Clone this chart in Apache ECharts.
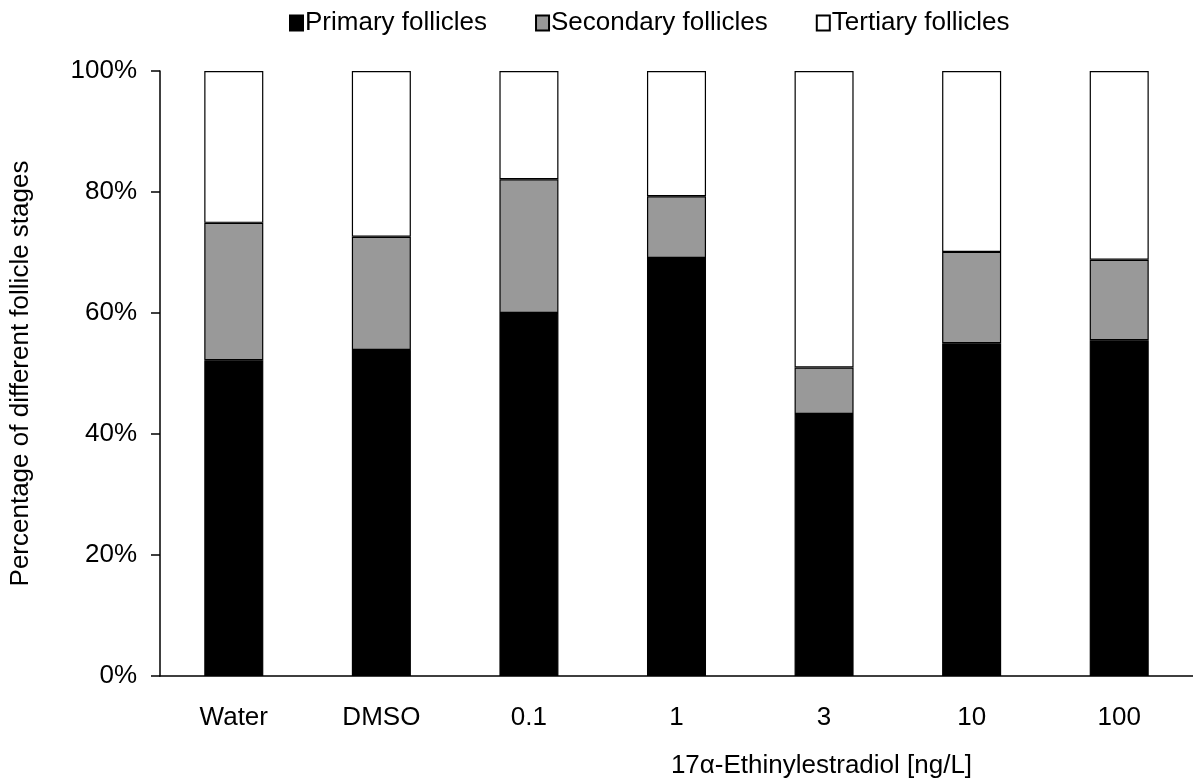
<!DOCTYPE html>
<html>
<head>
<meta charset="utf-8">
<script src="https://cdn.jsdelivr.net/npm/echarts@6/dist/echarts.min.js"></script>
<style>
  html, body { margin: 0; padding: 0; background: #fff; }
  #main { width: 1193px; height: 778px; }
</style>
</head>
<body>
<div id="main"></div>
<script>
// groups on the x axis
var groups = ['Water', 'DMSO', '0.1', '1', '3', '10', '100'];
// percent of follicles in each stage
var primary = [52.2, 53.9, 60.0, 69.1, 43.3, 55.0, 55.5];
var secondary = [22.7, 18.7, 22.1, 10.2, 7.7, 15.1, 13.3];
var tertiary = [25.1, 27.4, 17.9, 20.7, 49.0, 29.9, 31.2];

var fontName = 'Liberation Sans, Arial, sans-serif';

var myChart = echarts.init(document.getElementById('main'));

function stackSeries(name, data, fill, border) {
    return {
        name: name,
        type: 'bar',
        stack: 'total',
        barWidth: '40%',
        data: data,
        itemStyle: { color: fill, borderColor: border, borderWidth: 1.2 },
        emphasis: { disabled: true }
    };
}

var option = {
    animation: false,
    backgroundColor: '#fff',
    textStyle: { fontFamily: fontName },
    legend: {
        top: 5,
        left: 284,
        itemWidth: 13,
        itemHeight: 15,
        itemGap: 48,
        icon: 'rect',
        textStyle: { fontSize: 26, color: '#000', fontFamily: fontName, padding: [0, 0, 0, -3] },
        data: ['Primary follicles', 'Secondary follicles', 'Tertiary follicles']
    },
    grid: {
        left: 160,
        right: 0,
        top: 71,
        bottom: 102,
        containLabel: false,
        outerBoundsMode: 'none'
    },
    xAxis: {
        type: 'category',
        data: groups,
        name: '17\u03b1-Ethinylestradiol [ng/L]',
        nameLocation: 'middle',
        nameGap: 77,
        nameTextStyle: { fontSize: 26, color: '#000', padding: [0, 0, 0, 290] },
        axisLine: { lineStyle: { color: '#000', width: 1.5 } },
        axisTick: { show: false },
        axisLabel: { fontSize: 26, color: '#000', margin: 29 }
    },
    yAxis: {
        type: 'value',
        min: 0,
        max: 100,
        interval: 20,
        name: 'Percentage of different follicle stages',
        nameLocation: 'middle',
        nameGap: 126,
        nameTextStyle: { fontSize: 26, color: '#000' },
        axisLine: { show: true, lineStyle: { color: '#000', width: 1.5 } },
        axisTick: { show: true, length: 9, lineStyle: { color: '#000', width: 1.5 } },
        splitLine: { show: false },
        axisLabel: {
            fontSize: 26,
            color: '#000',
            margin: 23,
            formatter: function (v) { return v + '%'; }
        }
    },
    series: [
        stackSeries('Primary follicles', primary, '#000000', '#000000'),
        stackSeries('Secondary follicles', secondary, '#999999', '#000000'),
        stackSeries('Tertiary follicles', tertiary, '#ffffff', '#000000')
    ]
};

myChart.setOption(option, true);
</script>
</body>
</html>
